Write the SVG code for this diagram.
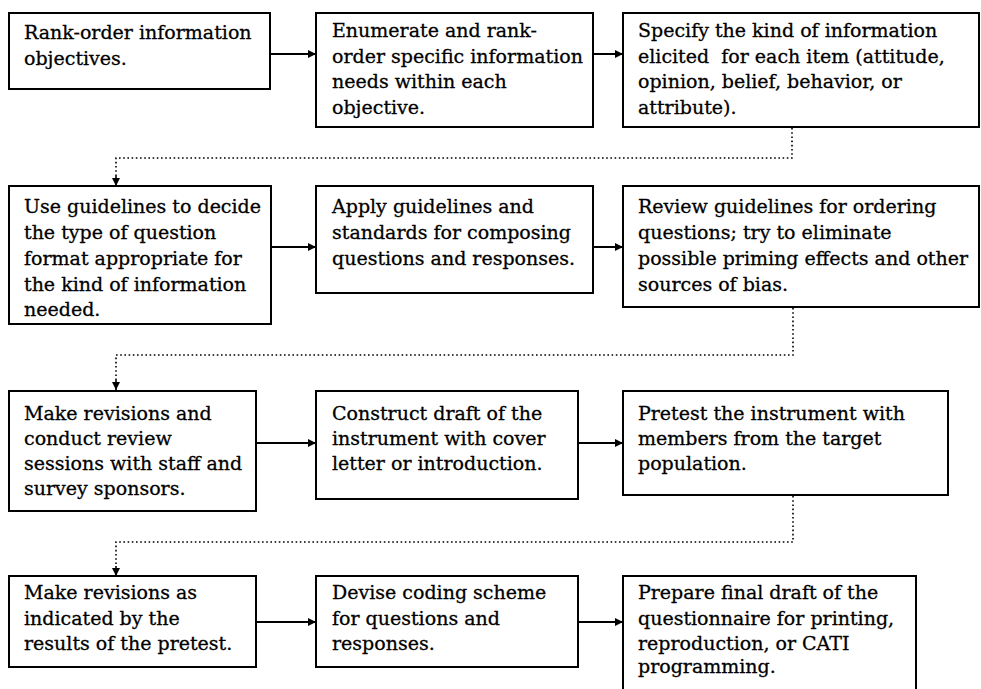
<svg xmlns="http://www.w3.org/2000/svg" width="981" height="689" viewBox="0 0 981 689">
<defs>
<style>
.box{fill:#fff;stroke:#000;stroke-width:2}
.t{font-family:"DejaVu Serif","Liberation Serif",serif;font-size:19px;fill:#000;stroke:#000;stroke-width:0.3;white-space:pre}
.arr{fill:none;stroke:#000;stroke-width:2;marker-end:url(#ah)}
.dot{fill:none;stroke:#000;stroke-width:1.6;stroke-dasharray:1.6 2.6}
</style>
<marker id="ah" viewBox="0 0 10 10" refX="10" refY="5" markerWidth="9" markerHeight="8" markerUnits="userSpaceOnUse" orient="auto">
<path d="M0,0 L10,5 L0,10 z" fill="#000"/>
</marker>
</defs>
<rect width="981" height="689" fill="#fff"/>
<g id="connectors">
<path class="arr" d="M270,54 H316"/>
<path class="arr" d="M593,54 H623"/>
<path class="dot" d="M792,128 V158 H116 V176"/>
<path class="arr" d="M116,176 V186" style="stroke-width:1.6"/>
<path class="arr" d="M271,247 H316"/>
<path class="arr" d="M593,247 H623"/>
<path class="dot" d="M793,308 V355 H116 V380"/>
<path class="arr" d="M116,380 V390" style="stroke-width:1.6"/>
<path class="arr" d="M256,443 H316"/>
<path class="arr" d="M578,443 H623"/>
<path class="dot" d="M793,496 V542 H116 V566"/>
<path class="arr" d="M116,566 V576" style="stroke-width:1.6"/>
<path class="arr" d="M256,622 H316"/>
<path class="arr" d="M578,622 H623"/>
</g>
<g id="n1"><rect class="box" x="9" y="13" width="261" height="76"/>
<text class="t" x="24"><tspan x="24" y="39">Rank-order information</tspan><tspan x="24" y="65">objectives.</tspan></text></g>
<g id="n2"><rect class="box" x="316" y="13" width="277" height="114"/>
<text class="t"><tspan x="332" y="37">Enumerate and rank-</tspan><tspan x="332" y="62.5">order specific information</tspan><tspan x="332" y="88">needs within each</tspan><tspan x="332" y="113.5">objective.</tspan></text></g>
<g id="n3"><rect class="box" x="623" y="13" width="356" height="114"/>
<text class="t"><tspan x="638" y="37">Specify the kind of information</tspan><tspan x="638" y="62.5">elicited  for each item (attitude,</tspan><tspan x="638" y="88">opinion, belief, behavior, or</tspan><tspan x="638" y="113.5">attribute).</tspan></text></g>
<g id="n4"><rect class="box" x="9" y="186" width="262" height="138"/>
<text class="t"><tspan x="24" y="213">Use guidelines to decide</tspan><tspan x="24" y="239">the type of question</tspan><tspan x="24" y="265">format appropriate for</tspan><tspan x="24" y="290.5">the kind of information</tspan><tspan x="24" y="315.5">needed.</tspan></text></g>
<g id="n5"><rect class="box" x="316" y="186" width="277" height="107"/>
<text class="t"><tspan x="332" y="213">Apply guidelines and</tspan><tspan x="332" y="239">standards for composing</tspan><tspan x="332" y="265">questions and responses.</tspan></text></g>
<g id="n6"><rect class="box" x="623" y="186" width="356" height="121"/>
<text class="t"><tspan x="638" y="213">Review guidelines for ordering</tspan><tspan x="638" y="239">questions; try to eliminate</tspan><tspan x="638" y="265">possible priming effects and other</tspan><tspan x="638" y="290.5">sources of bias.</tspan></text></g>
<g id="n7"><rect class="box" x="9" y="391" width="247" height="120"/>
<text class="t"><tspan x="24" y="420">Make revisions and</tspan><tspan x="24" y="445">conduct review</tspan><tspan x="24" y="470">sessions with staff and</tspan><tspan x="24" y="495">survey sponsors.</tspan></text></g>
<g id="n8"><rect class="box" x="316" y="391" width="262" height="108"/>
<text class="t"><tspan x="332" y="420">Construct draft of the</tspan><tspan x="332" y="445">instrument with cover</tspan><tspan x="332" y="470">letter or introduction.</tspan></text></g>
<g id="n9"><rect class="box" x="623" y="391" width="325" height="104"/>
<text class="t"><tspan x="638" y="420">Pretest the instrument with</tspan><tspan x="638" y="445">members from the target</tspan><tspan x="638" y="470">population.</tspan></text></g>
<g id="n10"><rect class="box" x="9" y="576" width="247" height="91"/>
<text class="t"><tspan x="24" y="599">Make revisions as</tspan><tspan x="24" y="625">indicated by the</tspan><tspan x="24" y="650">results of the pretest.</tspan></text></g>
<g id="n11"><rect class="box" x="316" y="576" width="262" height="91"/>
<text class="t"><tspan x="332" y="599">Devise coding scheme</tspan><tspan x="332" y="625">for questions and</tspan><tspan x="332" y="650">responses.</tspan></text></g>
<g id="n12"><rect class="box" x="623" y="576" width="293" height="120"/>
<text class="t"><tspan x="638" y="599">Prepare final draft of the</tspan><tspan x="638" y="625">questionnaire for printing,</tspan><tspan x="638" y="650">reproduction, or CATI</tspan><tspan x="638" y="673">programming.</tspan></text></g>
</svg>
